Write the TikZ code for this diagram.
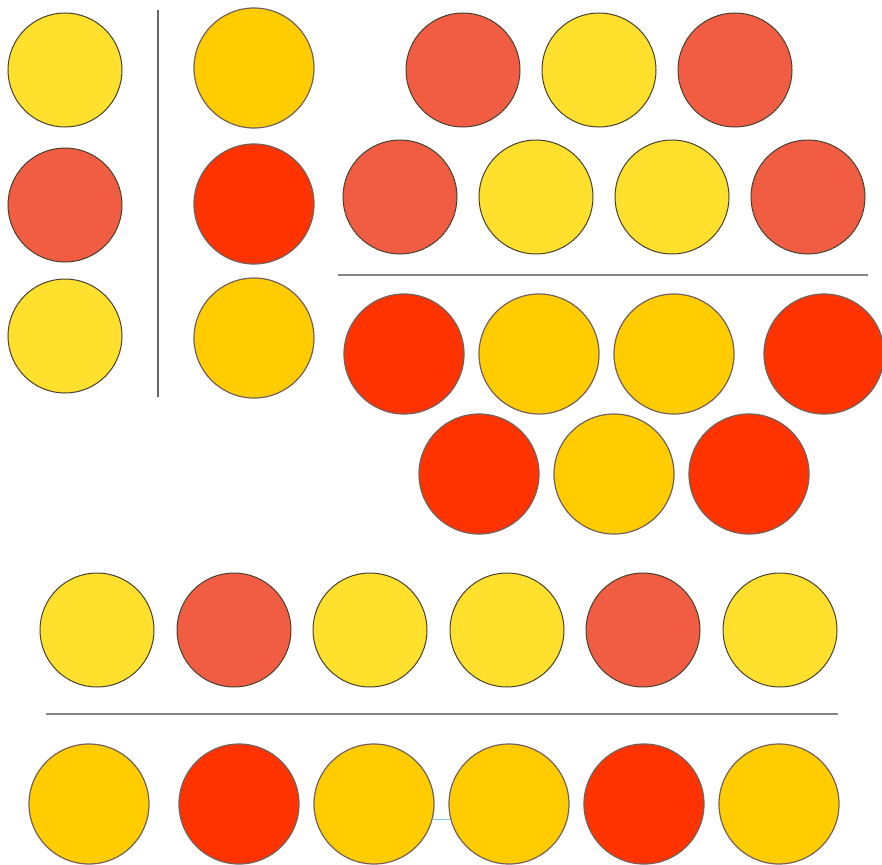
\documentclass[tikz,border=0pt]{standalone}
\definecolor{lyel}{HTML}{FFE02C}
\definecolor{coral}{HTML}{F05D42}
\definecolor{gold}{HTML}{FFCC00}
\definecolor{scar}{HTML}{FF3300}
\definecolor{edgeA}{HTML}{4A4030}
\definecolor{edgeB}{HTML}{76615A}
\definecolor{rule}{HTML}{858585}
\definecolor{cyanl}{HTML}{7EC8E3}
\begin{document}
\begin{tikzpicture}[x=1pt,y=-1pt,
  sm/.style={circle,inner sep=0pt,minimum size=114pt,draw=edgeA,line width=1pt},
  bg/.style={circle,inner sep=0pt,minimum size=120pt,draw=edgeB,line width=1.2pt},
  ly/.style={sm,fill=lyel}, co/.style={sm,fill=coral},
  gd/.style={bg,fill=gold}, sc/.style={bg,fill=scar},
  rulel/.style={draw=rule,line width=1.6pt}]
\useasboundingbox (0,0) rectangle (882,864);
\clip (0,0) rectangle (882,864);
% left column
\node[ly] (l1) at (65,70) {};
\node[co] (l2) at (65,205) {};
\node[ly] (l3) at (65,336) {};
\coordinate (vt) at (158,10);
\coordinate (vb) at (158,397);
\draw[draw=black!60,line width=1.4pt] (vt) -- (vb);
\node[gd] (r1) at (254,68) {};
\node[sc] (r2) at (254,204) {};
\node[gd] (r3) at (254,338) {};
% top right small
\node[co] (t1) at (463,70) {};
\node[ly] (t2) at (599,70) {};
\node[co] (t3) at (735,70) {};
\node[co] (t4) at (400,197) {};
\node[ly] (t5) at (536,197) {};
\node[ly] (t6) at (672,197) {};
\node[co] (t7) at (808,197) {};
\coordinate (h1a) at (338,275);
\coordinate (h1b) at (868,275);
\draw[rulel] (h1a) -- (h1b);
% big right
\node[sc] (u1) at (404,354) {};
\node[gd] (u2) at (539,354) {};
\node[gd] (u3) at (674,354) {};
\node[sc] (u4) at (824,354) {};
\node[sc] (u5) at (479,474) {};
\node[gd] (u6) at (614,474) {};
\node[sc] (u7) at (749,474) {};
% bottom small row
\node[ly] (s1) at (97,630) {};
\node[co] (s2) at (234,630) {};
\node[ly] (s3) at (370,630) {};
\node[ly] (s4) at (507,630) {};
\node[co] (s5) at (643,630) {};
\node[ly] (s6) at (780,630) {};
\coordinate (h2a) at (46,714);
\coordinate (h2b) at (838,714);
\draw[rulel] (h2a) -- (h2b);
% bottom big row
\node[gd] (b1) at (89,804) {};
\node[sc] (b2) at (239,804) {};
\node[gd] (b3) at (374,804) {};
\node[gd] (b4) at (509,804) {};
\node[sc] (b5) at (644,804) {};
\node[gd] (b6) at (779,804) {};
\draw[cyanl,line width=1pt] (b3.-15.5) -- (b4.195.5);
\end{tikzpicture}
\end{document}
